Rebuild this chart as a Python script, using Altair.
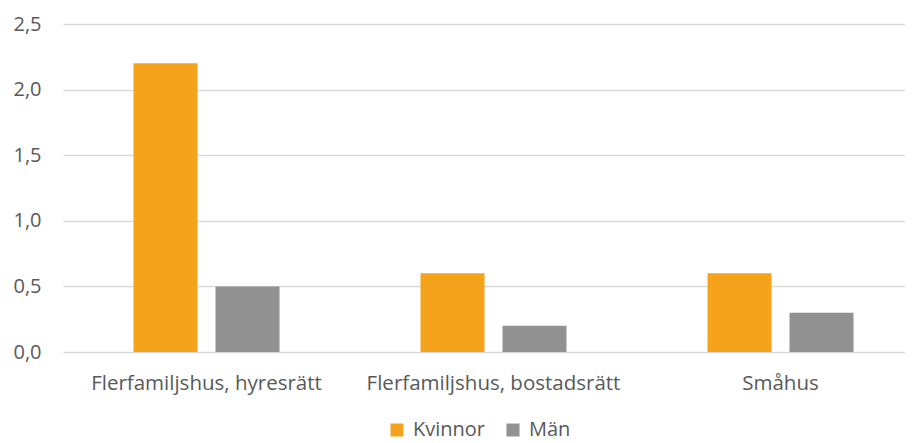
import altair as alt
import pandas as pd

categories = ["Flerfamiljshus, hyresrätt", "Flerfamiljshus, bostadsrätt", "Småhus"]
series = ["Kvinnor", "Män"]
kvinnor = [2.2, 0.6, 0.6]
man = [0.5, 0.2, 0.3]
y_ticks = [0, 0.5, 1.0, 1.5, 2.0, 2.5]
colors = ["#F4A31A", "#919191"]

rows = []
for c, k, m in zip(categories, kvinnor, man):
    rows.append({"kategori": c, "serie": series[0], "värde": k})
    rows.append({"kategori": c, "serie": series[1], "värde": m})
df = pd.DataFrame(rows)

FONT = "Open Sans"
LABEL_COLOR = "#595959"
FS = 20

chart = alt.Chart(df).mark_bar().encode(
    x=alt.X("kategori:N", sort=categories, title=None,
            scale=alt.Scale(range=[0, 861], paddingInner=0, paddingOuter=0),
            axis=alt.Axis(labelAngle=0, domain=False, ticks=False, labelPadding=21,
                          labelFontSize=20.5, labelFont=FONT, labelColor=LABEL_COLOR,
                          labelLimit=0, grid=False)),
    xOffset=alt.XOffset("serie:N", sort=series,
                        scale=alt.Scale(range=[0, 287], paddingInner=0.2195, paddingOuter=0.8598)),
    y=alt.Y("värde:Q", title=None,
            scale=alt.Scale(domain=[0, 2.5], nice=False),
            axis=alt.Axis(values=y_ticks, domain=False, ticks=False, labelPadding=22,
                          labelFontSize=FS, labelFont=FONT, labelColor=LABEL_COLOR,
                          gridColor="#D9D9D9", gridWidth=1.3,
                          labelExpr="replace(format(datum.value, '.1f'), '.', ',')")),
    color=alt.Color("serie:N", sort=series, title=None,
                    scale=alt.Scale(domain=series, range=colors),
                    legend=alt.Legend(orient="none", legendX=324, legendY=396,
                                      direction="horizontal", symbolType="square",
                                      symbolSize=169, symbolStrokeWidth=0,
                                      labelFontSize=FS, labelFont=FONT,
                                      labelColor=LABEL_COLOR, labelOffset=6,
                                      columnPadding=17)),
).properties(
    width=842, height=328,
    autosize=alt.AutoSizeParams(type="none"),
    padding={"left": 55, "top": 16, "right": 0, "bottom": 91},
).configure_view(stroke=None)

chart.save("out.html", embed_options={"renderer": "svg", "actions": False})
